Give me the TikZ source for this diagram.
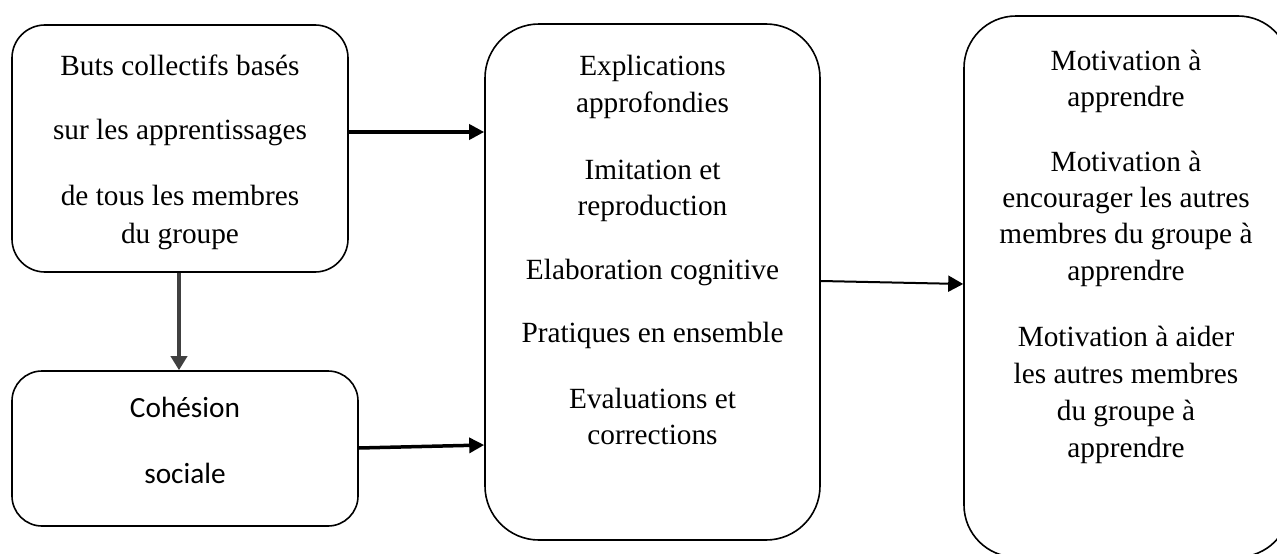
\documentclass[tikz,border=0pt]{standalone}
\usepackage{fontspec}
\setmainfont{Liberation Serif}
\newfontfamily\calibrifont{Carlito}
\usetikzlibrary{arrows.meta}
\definecolor{arrgray}{HTML}{404040}
\begin{document}
\begin{tikzpicture}[x=1pt,y=-1pt,
  box/.style={draw=black,line width=1.6pt,inner sep=0pt,fill=none},
  txt/.style={anchor=base,inner sep=0pt,font=\fontsize{29.3}{34}\selectfont},
  ctxt/.style={anchor=base,inner sep=0pt,font=\calibrifont\fontsize{29.3}{34}\selectfont},
  thick arrow/.style={line width=3.5pt,-{Triangle[length=15pt,width=15pt]}},
  thin arrow/.style={line width=2pt,-{Triangle[length=15pt,width=16pt]}},
  gray arrow/.style={draw=arrgray,line width=4pt,-{Triangle[length=14pt,width=16pt]}}]
\useasboundingbox (0,0) rectangle (1277,554);
\clip (0,0) rectangle (1277,554);
\fill[white] (0,0) rectangle (1277,554);
% boxes
\node[box,rounded corners=33pt,minimum width=336pt,minimum height=247pt] (b1) at (180,148.5) {};
\node[box,rounded corners=30pt,minimum width=346pt,minimum height=155pt] (b2) at (185,448.5) {};
\node[box,rounded corners=54pt,minimum width=335pt,minimum height=516pt] (b3) at (652.5,282) {};
\node[box,rounded corners=52pt,minimum width=326pt,minimum height=541pt] (b4) at (1127,286.5) {};
% texts box 1
\node[txt] (t11) at (180,75) {Buts collectifs basés};
\node[txt] (t12) at (180,139) {sur les apprentissages};
\node[txt] (t13) at (180,205) {de tous les membres};
\node[txt] (t14) at (180,243) {du groupe};
% texts box 2
\node[ctxt] (t21) at (185,417) {Cohésion};
\node[ctxt] (t22) at (185,483) {sociale};
% texts box 3
\node[txt] (t31) at (652.5,75) {Explications};
\node[txt] (t32) at (652.5,112) {approfondies};
\node[txt] (t33) at (652.5,179) {Imitation et};
\node[txt] (t34) at (652.5,215) {reproduction};
\node[txt] (t35) at (652.5,279) {Elaboration cognitive};
\node[txt] (t36) at (652.5,342) {Pratiques en ensemble};
\node[txt] (t37) at (652.5,408) {Evaluations et};
\node[txt] (t38) at (652.5,444) {corrections};
% texts box 4
\node[txt] (t41) at (1126,70) {Motivation à};
\node[txt] (t42) at (1126,106) {apprendre};
\node[txt] (t43) at (1126,171) {Motivation à};
\node[txt] (t44) at (1126,207) {encourager les autres};
\node[txt] (t45) at (1126,243) {membres du groupe à};
\node[txt] (t46) at (1126,280) {apprendre};
\node[txt] (t47) at (1126,346) {Motivation à aider};
\node[txt] (t48) at (1126,383) {les autres membres};
\node[txt] (t49) at (1126,420) {du groupe à};
\node[txt] (t410) at (1126,457) {apprendre};
% connectors
\coordinate (s1) at ([yshift=16.5pt]b1.east);
\draw[thick arrow] (s1) -- (s1 -| b3.west);
\coordinate (s2) at ([yshift=0.5pt]b2.east);
\coordinate (e2) at ([yshift=3.5pt]b2.east -| b3.west);
\draw[thick arrow] (s2) -- (e2);
\coordinate (s3) at ([yshift=1pt]b3.east);
\coordinate (e3) at ([yshift=2.5pt]b4.west);
\draw[thin arrow] (s3) -- (e3);
\draw[gray arrow] ([xshift=-1pt]b1.south) -- ([xshift=-1pt]b1.south |- b2.north);
\end{tikzpicture}
\end{document}
